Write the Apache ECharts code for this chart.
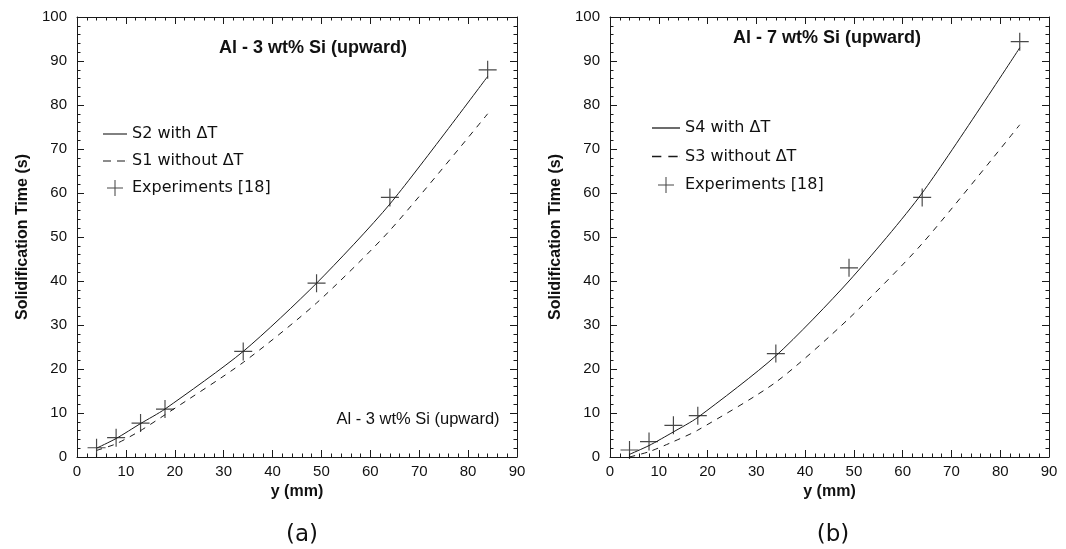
<!DOCTYPE html>
<html>
<head>
<meta charset="utf-8">
<script src="https://cdn.jsdelivr.net/npm/echarts@6/dist/echarts.min.js"></script>
<style>html,body{margin:0;padding:0;background:#fff}#c{width:1066px;height:549px}</style>
</head>
<body>
<div id="c"></div>
<script>
// Positions along the sample (mm)
const yPos = [4, 8, 13, 18, 34, 49, 64, 84];
// Al - 3 wt% Si
const s2WithDT    = [2.0, 4.2, 7.6, 10.9, 24.0, 39.5, 57.5, 86.5];
const s1WithoutDT = [1.5, 3.0, 6.0, 9.6, 21.5, 35.0, 51.5, 78.0];
const exp3        = [2.1, 4.4, 7.7, 10.9, 24.0, 39.5, 59.0, 88.0];
// Al - 7 wt% Si
const s4WithDT    = [0.6, 2.6, 5.7, 9.0, 23.0, 40.0, 60.0, 93.0];
const s3WithoutDT = [0.0, 1.2, 3.5, 6.1, 17.0, 31.5, 48.5, 75.5];
const exp7        = [1.6, 3.5, 7.2, 9.4, 23.5, 43.0, 59.0, 94.4];

const pair = (xs, ys) => xs.map((x, i) => [x, ys[i]]);
const PLUS = 'path://M-10,-0.65 L10,-0.65 L10,0.65 L-10,0.65 Z M-0.65,-10 L0.65,-10 L0.65,10 L-0.65,10 Z';
const SOLID_ICON = 'path://M0,0 L24,0 L24,1.1 L0,1.1 Z';
const DASH_ICON = 'path://M0,0 L8,0 L8,1.1 L0,1.1 Z M14,0 L22,0 L22,1.1 L14,1.1 Z M23.9,0 L24,0 L24,1.1 L23.9,1.1 Z';
const INK = '#1a1a1a';
const tickFont = 'Liberation Sans, Arial, sans-serif';
const geoFont = 'DejaVu Sans, sans-serif';

function xAx(g, pos) {
  const main = pos === 'bottom';
  return {
    gridIndex: g, type: 'value', min: 0, max: 90, interval: 10, position: pos,
    axisLine: { show: true, onZero: false, lineStyle: { color: INK, width: 1 } },
    axisTick: { show: true, inside: true, length: 7, lineStyle: { color: INK } },
    minorTick: { show: true, splitNumber: 5, length: 3.5, lineStyle: { color: INK } },
    splitLine: { show: false },
    axisLabel: { show: main, fontSize: 15, color: '#111', fontFamily: tickFont, margin: 7 },
    name: main ? 'y (mm)' : '', nameLocation: 'middle', nameGap: 27,
    nameTextStyle: { fontSize: 16, fontWeight: 'bold', color: '#111', fontFamily: tickFont }
  };
}
function yAx(g, pos) {
  const main = pos === 'left';
  return {
    gridIndex: g, type: 'value', min: 0, max: 100, interval: 10, position: pos,
    axisLine: { show: true, onZero: false, lineStyle: { color: INK, width: 1 } },
    axisTick: { show: true, inside: true, length: 7, lineStyle: { color: INK } },
    minorTick: { show: true, splitNumber: 5, length: 3.5, lineStyle: { color: INK } },
    splitLine: { show: false },
    axisLabel: { show: main, fontSize: 15, color: '#111', fontFamily: tickFont, margin: 10 },
    name: main ? 'Solidification Time (s)' : '', nameLocation: 'middle', nameGap: 46,
    nameTextStyle: { fontSize: 16, fontWeight: 'bold', color: '#111', fontFamily: tickFont }
  };
}
function lineSeries(name, xi, yi, data, dashed) {
  return {
    name, type: 'line', xAxisIndex: xi, yAxisIndex: yi, data,
    smooth: 0.25, symbol: 'none', showSymbol: false, symbolKeepAspect: true,
    lineStyle: { color: INK, width: 1, type: dashed ? [6, 6] : 'solid' },
    itemStyle: { color: INK }, z: 3
  };
}
function expSeries(xi, yi, data) {
  return {
    name: 'Experiments [18]', type: 'scatter', xAxisIndex: xi, yAxisIndex: yi, data,
    symbol: PLUS, symbolSize: 18, symbolKeepAspect: true,
    itemStyle: { color: INK }, z: 4
  };
}
function legendData(solidName, dashName) {
  return [
    { name: solidName, icon: SOLID_ICON, itemStyle: { color: INK, borderWidth: 0 } },
    { name: dashName, icon: DASH_ICON, itemStyle: { color: INK, borderWidth: 0 } },
    { name: 'Experiments [18]' }
  ];
}

const chart = echarts.init(document.getElementById('c'), null, { renderer: 'canvas' });
chart.setOption({
  animation: false,
  backgroundColor: '#fff',
  grid: [
    { left: 77, right: 549, top: 17, bottom: 92 },
    { left: 610, right: 17, top: 17, bottom: 92 }
  ],
  xAxis: [xAx(0, 'bottom'), xAx(0, 'top'), xAx(1, 'bottom'), xAx(1, 'top')],
  yAxis: [yAx(0, 'left'), yAx(0, 'right'), yAx(1, 'left'), yAx(1, 'right')],
  title: [
    { text: 'Al - 3 wt% Si (upward)', left: 308, top: 34, textAlign: 'center',
      textStyle: { fontSize: 18, fontWeight: 'bold', color: '#111', fontFamily: tickFont } },
    { text: 'Al - 7 wt% Si (upward)', left: 822, top: 24, textAlign: 'center',
      textStyle: { fontSize: 18, fontWeight: 'bold', color: '#111', fontFamily: tickFont } },
    { text: 'Al - 3 wt% Si (upward)', left: 413, top: 406, textAlign: 'center',
      textStyle: { fontSize: 16.5, fontWeight: 'normal', color: '#111', fontFamily: tickFont } },
    { text: '(a)', left: 297, top: 519, textAlign: 'center',
      textStyle: { fontSize: 23, fontWeight: 'normal', color: '#111', fontFamily: geoFont } },
    { text: '(b)', left: 828, top: 519, textAlign: 'center',
      textStyle: { fontSize: 23, fontWeight: 'normal', color: '#111', fontFamily: geoFont } }
  ],
  legend: [
    { data: legendData('S2 with ΔT', 'S1 without ΔT'), orient: 'vertical',
      left: 98, top: 121, itemWidth: 24, itemHeight: 16, itemGap: 11,
      textStyle: { fontSize: 16, color: '#111', fontFamily: geoFont } },
    { data: legendData('S4 with ΔT', 'S3 without ΔT'), orient: 'vertical',
      left: 647, top: 115, itemWidth: 28, itemHeight: 16, itemGap: 12.5,
      textStyle: { fontSize: 16, color: '#111', fontFamily: geoFont } }
  ],
  series: [
    lineSeries('S2 with ΔT', 0, 0, pair(yPos, s2WithDT), false),
    lineSeries('S1 without ΔT', 0, 0, pair(yPos, s1WithoutDT), true),
    expSeries(0, 0, pair(yPos, exp3)),
    lineSeries('S4 with ΔT', 2, 2, pair(yPos, s4WithDT), false),
    lineSeries('S3 without ΔT', 2, 2, pair(yPos, s3WithoutDT), true),
    expSeries(2, 2, pair(yPos, exp7))
  ]
});
</script>
</body>
</html>
